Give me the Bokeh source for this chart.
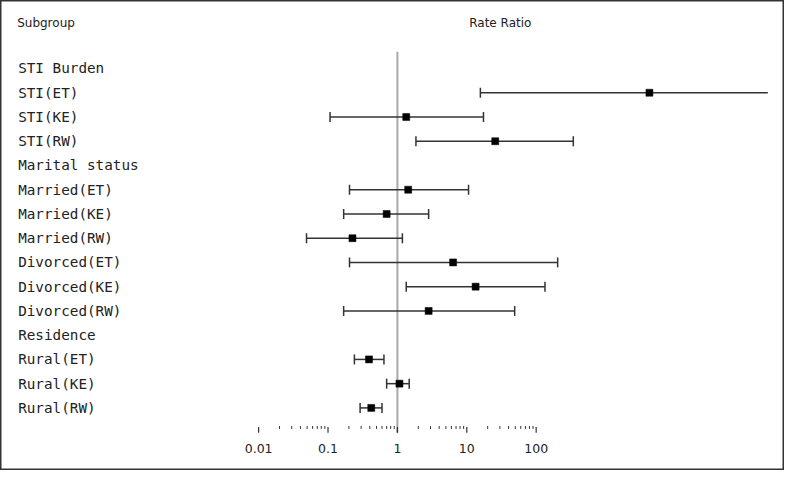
import math
from bokeh.plotting import figure
from bokeh.models import Range1d, ColumnDataSource
from bokeh.core.properties import value
from bokeh.embed import file_html
from bokeh.resources import INLINE

# ---------------- data ----------------
labels = ["STI Burden", "STI(ET)", "STI(KE)", "STI(RW)",
          "Marital status", "Married(ET)", "Married(KE)", "Married(RW)",
          "Divorced(ET)", "Divorced(KE)", "Divorced(RW)",
          "Residence", "Rural(ET)", "Rural(KE)", "Rural(RW)"]
rate  = [None, 4290, 1.34, 25.7, None, 1.43, 0.70, 0.225, 6.35, 13.4, 2.82, None, 0.39, 1.07, 0.42]
lower = [None, 15.7, 0.107, 1.85, None, 0.204, 0.168, 0.049, 0.204, 1.34, 0.168, None, 0.24, 0.70, 0.29]
upper = [None, 250000, 17.4, 343, None, 10.6, 2.82, 1.18, 204, 134, 49, None, 0.64, 1.48, 0.60]
major_ticks = [0.01, 0.1, 1, 10, 100]
tick_labels = ["0.01", "0.1", "1", "10", "100"]
header_left = "Subgroup"
header_right = "Rate Ratio"

# ---------------- layout (reference pixel geometry) ----------------
W, H = 784, 470
REF_W, REF_H = 800, 486
DEC = 70.8        # px per decade
X_ONE = 405.0     # px of value 1
ROW0, ROWSTEP = 70.3, 25.07
X_CLIP_PX = 783.0

def px2val(px):
    return 10 ** ((px - X_ONE) / DEC)

XCLIP = px2val(X_CLIP_PX)

p = figure(width=W, height=H, output_backend="svg", toolbar_location=None,
           x_axis_type="log",
           x_range=Range1d(px2val(0), px2val(REF_W)),
           y_range=Range1d(REF_H, 0),
           min_border=0)
p.axis.visible = False
p.grid.visible = False
p.outline_line_color = "#333333"
p.outline_line_width = 2
p.background_fill_color = "white"
p.border_fill_color = "white"

row_y = [ROW0 + i * ROWSTEP for i in range(len(labels))]

# row labels
p.text(x=[px2val(18)] * len(labels), y=row_y, text=labels,
       text_font=value("DejaVu Sans Mono"), text_font_size="14.3px",
       text_color="#222222", text_baseline="middle", text_align="left")

# headers
p.text(x=[px2val(17)], y=[23], text=[header_left], text_font=value("DejaVu Sans"),
       text_font_size="12px", text_color="#222222", text_baseline="middle", text_align="left")
p.text(x=[px2val(510)], y=[23], text=[header_right], text_font=value("DejaVu Sans"),
       text_font_size="12px", text_color="#222222", text_baseline="middle", text_align="center")

# reference line at 1
p.segment(x0=[1], x1=[1], y0=[53], y1=[447], line_color="#a8a8a8", line_width=2)

# confidence intervals
idx = [i for i, r in enumerate(rate) if r is not None]
src = ColumnDataSource(dict(
    y=[row_y[i] for i in idx],
    rate=[rate[i] for i in idx],
    lo=[lower[i] for i in idx],
    hi=[min(upper[i], XCLIP) for i in idx],
))
p.segment(x0="lo", x1="hi", y0="y", y1="y", source=src, line_color="#333333", line_width=1.5)

cap_x = [lower[i] for i in idx] + [upper[i] for i in idx if upper[i] <= XCLIP]
cap_y = [row_y[i] for i in idx] + [row_y[i] for i in idx if upper[i] <= XCLIP]
p.scatter(x=cap_x, y=cap_y, marker="dash", angle=math.pi / 2, size=10,
          line_color="#333333", line_width=1.5)

p.scatter(x="rate", y="y", source=src, marker="square", size=7,
          fill_color="black", line_color="black", line_width=0.5)

# axis ticks (drawn in data space)
minor = [m * t for t in major_ticks[:-1] for m in range(2, 10)]
p.segment(x0=major_ticks, x1=major_ticks, y0=[441] * 5, y1=[447] * 5,
          line_color="#333333", line_width=1.2)
p.segment(x0=minor, x1=minor, y0=[440] * len(minor), y1=[443] * len(minor),
          line_color="#333333", line_width=1)
p.text(x=major_ticks, y=[463] * 5, text=tick_labels, text_font=value("DejaVu Sans"),
       text_font_size="12.5px", text_color="#222222", text_baseline="middle", text_align="center")

open("out.html", "w").write(file_html(p, INLINE))
